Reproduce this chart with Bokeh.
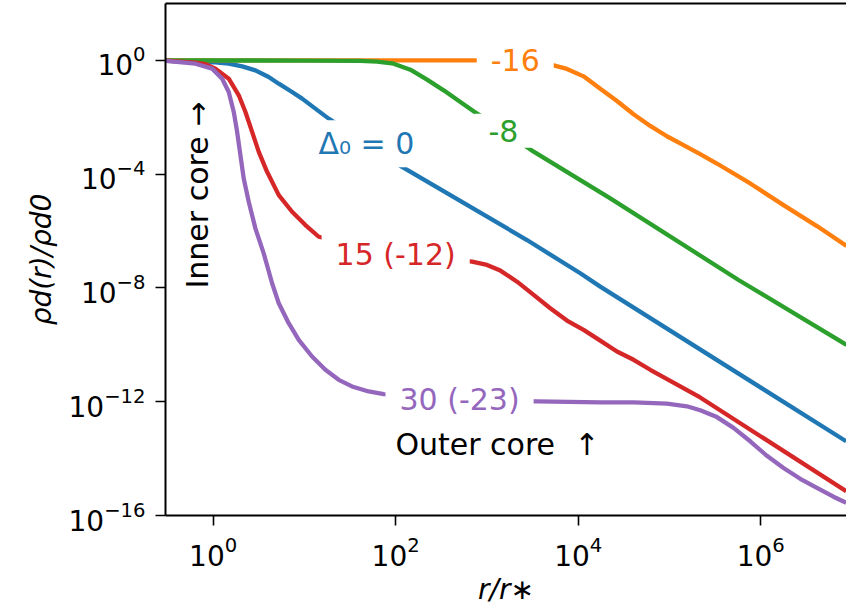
import numpy as np
from bokeh.plotting import figure
from bokeh.models import LogAxis, FixedTicker, Range1d, ColumnDataSource
from bokeh.core.properties import value
from bokeh.embed import file_html
from bokeh.resources import INLINE

FONT = "DejaVu Sans"

# ---- data: log10(r/r*) and log10(rho_d/rho_d0) ----
blue_logr = [-0.52, -0.194, 0.025, 0.171, 0.318, 0.463, 0.609, 0.719, 0.865, 0.975, 1.12, 1.266,
             1.68, 2.07, 3.439, 4.023, 4.242, 6.936]
blue_logrho = [-0.01, -0.058, -0.07, -0.117, -0.211, -0.351, -0.585, -0.819, -1.111, -1.345, -1.696, -2.047,
               -2.93, -3.744, -6.316, -7.485, -7.954, -13.39]

orange_logr = [-0.52, 3.0, 3.4, 3.731, 3.877, 4.059, 4.242, 4.425, 4.607, 4.79, 4.972, 5.154, 5.337,
               5.52, 5.885, 6.25, 6.616, 6.94]
orange_logrho = [0.0, 0.0, -0.03, -0.175, -0.3, -0.561, -0.994, -1.427, -1.895, -2.304, -2.667, -2.982,
                 -3.298, -3.626, -4.327, -5.088, -5.825, -6.52]

green_logr = [-0.52, 1.0, 1.613, 1.796, 1.978, 2.161, 2.344, 2.526, 2.709, 2.854, 3.18, 3.512,
              4.352, 5.757, 6.94]
green_logrho = [0.0, -0.005, -0.02, -0.047, -0.117, -0.327, -0.678, -1.053, -1.462, -1.789, -2.47, -3.21,
                -4.85, -7.72, -10.0]

red_logr = [-0.52, -0.194, -0.084, 0.025, 0.171, 0.281, 0.354, 0.427, 0.5, 0.591, 0.719, 0.865, 1.011,
            1.157, 2.0, 2.837, 3.001, 3.147, 3.33, 3.512, 3.694, 3.877, 4.059, 4.242, 4.425, 4.607,
            4.79, 5.337, 6.936]
red_logrho = [-0.01, -0.082, -0.13, -0.29, -0.643, -1.228, -1.813, -2.515, -3.216, -3.918, -4.737, -5.322,
              -5.789, -6.2, -6.84, -7.077, -7.19, -7.39, -7.78, -8.246, -8.713, -9.146, -9.474, -9.85,
              -10.234, -10.526, -10.877, -11.85, -15.147]

purple_logr = [-0.52, -0.194, -0.011, 0.099, 0.171, 0.226, 0.263, 0.299, 0.335, 0.39, 0.463, 0.554,
               0.646, 0.719, 0.828, 0.938, 1.084, 1.23, 1.376, 1.522, 1.704, 1.869, 2.7, 3.549, 4.242,
               4.607, 4.972, 5.191, 5.337, 5.52, 5.702, 5.885, 6.068, 6.25, 6.433, 6.616, 6.797, 6.936]
purple_logrho = [-0.02, -0.117, -0.29, -0.643, -1.111, -1.813, -2.515, -3.333, -4.152, -4.971, -5.906,
                 -6.784, -7.835, -8.537, -9.24, -9.825, -10.41, -10.877, -11.23, -11.463, -11.64, -11.73,
                 -11.93, -11.99, -12.02, -12.02, -12.07, -12.16, -12.3, -12.54, -12.92, -13.39, -13.9,
                 -14.33, -14.71, -15.03, -15.34, -15.55]

series = [
    ("blue", blue_logr, blue_logrho, "#1f77b4"),
    ("orange", orange_logr, orange_logrho, "#ff7f0e"),
    ("green", green_logr, green_logrho, "#2ca02c"),
    ("red", red_logr, red_logrho, "#d62728"),
    ("purple", purple_logr, purple_logrho, "#9467bd"),
]

label_texts = ["Δ₀ = 0", "-16", "-8", "15 (-12)", "30 (-23)"]
label_logr = [1.68, 3.31, 3.18, 2.0, 2.7]
label_logrho = [-2.93, 0.0, -2.47, -6.84, -11.93]
label_colors = ["#1f77b4", "#ff7f0e", "#2ca02c", "#d62728", "#9467bd"]

x_ticks = [1, 1e2, 1e4, 1e6]
y_ticks = [1e-16, 1e-12, 1e-8, 1e-4, 1]

p = figure(width=846, height=611, x_axis_type="log", y_axis_type="log",
           x_range=Range1d(10 ** -0.522, 10 ** 6.94), y_range=Range1d(1e-16, 1e2),
           output_backend="svg", toolbar_location=None,
           min_border_left=165, min_border_right=0, min_border_top=3, min_border_bottom=96,
           x_axis_label="r/r∗", y_axis_label="ρd(r)/ρd0")
p.grid.visible = False
p.outline_line_color = None
p.background_fill_color = "white"
p.border_fill_color = "white"

for ax in (p.xaxis[0], p.yaxis[0]):
    ax.axis_line_width = 2
    ax.axis_line_color = "black"
    ax.major_tick_line_width = 1.6
    ax.major_tick_out = 10
    ax.major_tick_in = 0
    ax.minor_tick_line_color = None
    ax.major_label_text_font = FONT
    ax.major_label_text_font_size = "28px"
    ax.major_label_text_color = "black"
    ax.axis_label_text_font = FONT
    ax.axis_label_text_font_size = "28px"
    ax.axis_label_text_font_style = "italic"
    ax.axis_label_text_color = "black"
p.xaxis[0].ticker = FixedTicker(ticks=x_ticks, minor_ticks=[])
p.yaxis[0].ticker = FixedTicker(ticks=y_ticks, minor_ticks=[])
p.xaxis[0].major_label_standoff = 10
p.yaxis[0].major_label_standoff = 10
p.xaxis[0].axis_label_standoff = 4
p.yaxis[0].axis_label_standoff = 8

top = LogAxis(ticker=FixedTicker(ticks=[], minor_ticks=[]), axis_line_width=2,
              major_tick_out=0, major_tick_in=0, minor_tick_out=0, minor_tick_in=0,
              major_label_text_font_size="0px", major_label_standoff=0)
p.add_layout(top, "above")

for name, lr, lrho, col in series:
    p.line(10 ** np.array(lr), 10 ** np.array(lrho), line_color=col, line_width=4.3,
           line_join="round", line_cap="butt")

src = ColumnDataSource(dict(x=10 ** np.array(label_logr), y=10 ** np.array(label_logrho),
                            text=label_texts, color=label_colors))
p.text(x="x", y="y", text="text", source=src, text_color="color",
       text_font=value(FONT), text_font_size="30px", text_align="center",
       text_baseline="middle", background_fill_color="white", padding=dict(x=14, y=6))

p.text(x=[10 ** -0.172], y=[10 ** -4.737], text=["Inner core →"], angle=np.pi / 2,
       text_color="black", text_font=value(FONT), text_font_size="30px",
       text_align="center", text_baseline="middle")
p.text(x=[10 ** 3.114], y=[10 ** -13.51], text=["Outer core\u00a0\u00a0↑"],
       text_color="black", text_font=value(FONT), text_font_size="30px",
       text_align="center", text_baseline="middle")

open("out.html", "w").write(file_html(p, INLINE))
